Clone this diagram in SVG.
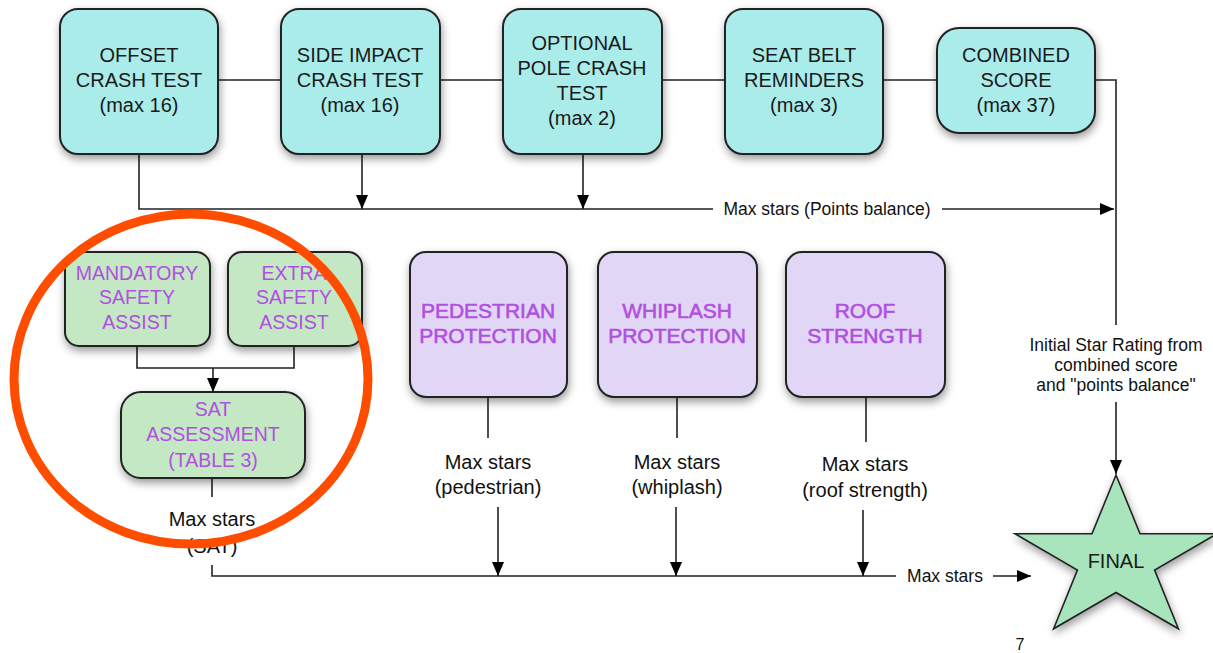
<svg xmlns="http://www.w3.org/2000/svg" width="1213" height="653" viewBox="0 0 1213 653">
<defs>
<filter id="sh" x="-20%" y="-20%" width="140%" height="150%">
<feDropShadow dx="1" dy="4" stdDeviation="4" flood-color="#000" flood-opacity="0.4"/>
</filter>
<marker id="ahb" viewBox="0 0 14 12" refX="14" refY="6" markerWidth="14" markerHeight="12" markerUnits="userSpaceOnUse" orient="auto">
<path d="M0,0 L14,6 L0,12 Z" fill="#000"/>
</marker>
</defs>
<style>
.box{stroke:#222;stroke-width:2;filter:url(#sh)}
.cy{fill:#aaecea}
.gr{fill:#c4e8c3}
.pu{fill:#e2d6f6}
text{font-family:"Liberation Sans",Arial,sans-serif;text-anchor:middle}
.t{font-size:20px;fill:#1a1a1a}
.g{font-size:19.5px;fill:#b050e0}
.p{font-size:21px;fill:#b050e0;stroke:#b050e0;stroke-width:0.6}
.l{font-size:20px;fill:#111}
.s{font-size:17.5px;fill:#111}
.c{fill:none;stroke:#222;stroke-width:1.6}
</style>

<g id="connectors">
<path class="c" d="M218,80 H281 M440,80 H503 M662,80 H725 M883,80 H937 M1095,80 H1116 V325"/>
<path class="c" d="M1116,402 V474" marker-end="url(#ahb)"/>
<path class="c" d="M139,154 V209 H713"/>
<path class="c" d="M362,154 V209" marker-end="url(#ahb)"/>
<path class="c" d="M583,154 V209" marker-end="url(#ahb)"/>
<path class="c" d="M942,209 H1114" marker-end="url(#ahb)"/>
<path class="c" d="M137,346 V368 H294 V346"/>
<path class="c" d="M213,368 V392" marker-end="url(#ahb)"/>
<path class="c" d="M212,478 V497"/>
<path class="c" d="M212,565 V576 H896"/>
<path class="c" d="M488,398 V438"/>
<path class="c" d="M677,398 V438"/>
<path class="c" d="M866,398 V442"/>
<path class="c" d="M498,507 V576" marker-end="url(#ahb)"/>
<path class="c" d="M676,507 V576" marker-end="url(#ahb)"/>
<path class="c" d="M863,510 V576" marker-end="url(#ahb)"/>
<path class="c" d="M993,576 H1031" marker-end="url(#ahb)"/>
<text class="s" x="827" y="215">Max stars (Points balance)</text>
<text class="s" x="945" y="582">Max stars</text>
<text class="s" x="1116" y="351">Initial Star Rating from</text>
<text class="s" x="1116" y="371">combined score</text>
<text class="s" x="1116" y="391">and "points balance"</text>
<text class="l" x="212" y="526">Max stars</text>
<text class="l" x="212" y="553">(SAT)</text>
<text class="l" x="488" y="469">Max stars</text>
<text class="l" x="488" y="494">(pedestrian)</text>
<text class="l" x="677" y="469">Max stars</text>
<text class="l" x="677" y="494">(whiplash)</text>
<text class="l" x="865" y="471">Max stars</text>
<text class="l" x="865" y="497">(roof strength)</text>
</g>

<g id="offset">
<rect class="box cy" x="60" y="9" width="158" height="145" rx="18"/>
<text class="t" x="139" y="62">OFFSET</text>
<text class="t" x="139" y="87">CRASH TEST</text>
<text class="t" x="139" y="112">(max 16)</text>
</g>
<g id="side-impact">
<rect class="box cy" x="281" y="9" width="159" height="145" rx="18"/>
<text class="t" x="360" y="62">SIDE IMPACT</text>
<text class="t" x="360" y="87">CRASH TEST</text>
<text class="t" x="360" y="112">(max 16)</text>
</g>
<g id="pole">
<rect class="box cy" x="503" y="9" width="159" height="145" rx="18"/>
<text class="t" x="582" y="50">OPTIONAL</text>
<text class="t" x="582" y="75">POLE CRASH</text>
<text class="t" x="582" y="100">TEST</text>
<text class="t" x="582" y="125">(max 2)</text>
</g>
<g id="seatbelt">
<rect class="box cy" x="725" y="9" width="158" height="145" rx="18"/>
<text class="t" x="804" y="62">SEAT BELT</text>
<text class="t" x="804" y="87">REMINDERS</text>
<text class="t" x="804" y="112">(max 3)</text>
</g>
<g id="combined">
<rect class="box cy" x="937" y="28" width="158" height="105" rx="22"/>
<text class="t" x="1016" y="62">COMBINED</text>
<text class="t" x="1016" y="87">SCORE</text>
<text class="t" x="1016" y="112">(max 37)</text>
</g>

<g id="mandatory">
<rect class="box gr" x="65" y="252" width="145" height="94" rx="14"/>
<text class="g" x="137" y="280">MANDATORY</text>
<text class="g" x="137" y="304">SAFETY</text>
<text class="g" x="137" y="329">ASSIST</text>
</g>
<g id="extra">
<rect class="box gr" x="228" y="252" width="134" height="94" rx="14"/>
<text class="g" x="294" y="280">EXTRA</text>
<text class="g" x="294" y="304">SAFETY</text>
<text class="g" x="294" y="329">ASSIST</text>
</g>
<g id="sat">
<rect class="box gr" x="121" y="392" width="184" height="86" rx="20"/>
<text class="g" x="213" y="416">SAT</text>
<text class="g" x="213" y="441">ASSESSMENT</text>
<text class="g" x="213" y="467">(TABLE 3)</text>
</g>

<g id="pedestrian">
<rect class="box pu" x="410" y="252" width="157" height="145" rx="16"/>
<text class="p" x="488" y="318">PEDESTRIAN</text>
<text class="p" x="488" y="343">PROTECTION</text>
</g>
<g id="whiplash">
<rect class="box pu" x="598" y="252" width="159" height="145" rx="16"/>
<text class="p" x="677" y="318">WHIPLASH</text>
<text class="p" x="677" y="343">PROTECTION</text>
</g>
<g id="roof">
<rect class="box pu" x="786" y="252" width="159" height="145" rx="16"/>
<text class="p" x="865" y="318">ROOF</text>
<text class="p" x="865" y="343">STRENGTH</text>
</g>

<g id="final">
<polygon points="1116,475 1140,533.7 1217,533.7 1154.6,570 1178.4,628.8 1116,592.5 1053.6,628.8 1077.4,570 1015,533.7 1092,533.7" fill="#a8e4bc" stroke="#222" stroke-width="1.6" filter="url(#sh)"/>
<text class="t" x="1116" y="568">FINAL</text>
</g>

<g id="highlight">
<ellipse cx="191" cy="379" rx="177" ry="165" fill="none" stroke="#ff4d00" stroke-width="9"/>
</g>

<text x="1020" y="650" style="font-size:16px;fill:#111">7</text>
</svg>
